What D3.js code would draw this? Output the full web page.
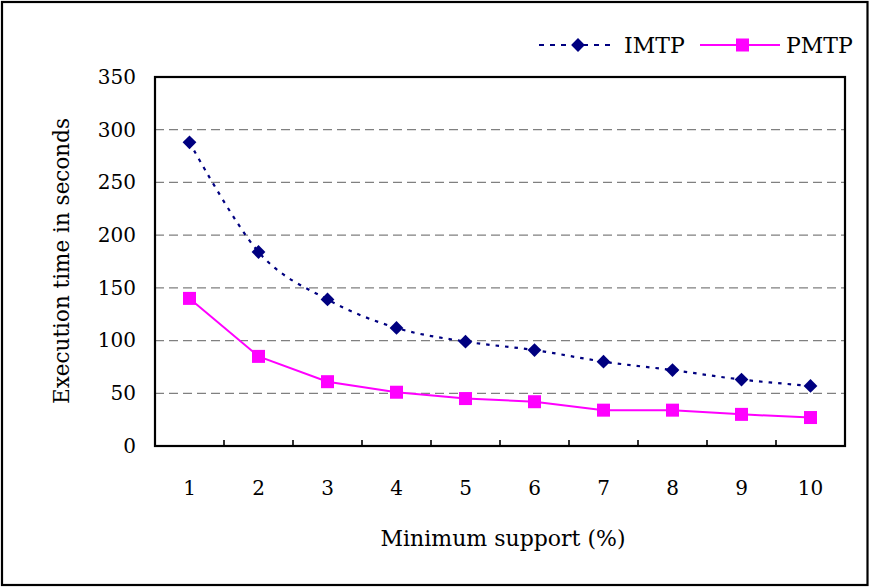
<!DOCTYPE html>
<html>
<head>
<meta charset="utf-8">
<script src="https://cdn.jsdelivr.net/npm/d3@7"></script>
<style>
  html, body { margin: 0; padding: 0; background: #fff; }
  svg { display: block; }
  text { font-family: "DejaVu Serif", serif; fill: #000; }
</style>
</head>
<body>
<svg id="chart" width="870" height="587"></svg>
<script>
// Minimum support levels (%) and execution times (seconds)
const supports = [1, 2, 3, 4, 5, 6, 7, 8, 9, 10];
const imtp = [288, 184, 139, 112, 99, 91, 80, 72, 63, 57];
const pmtp = [140, 85, 61, 51, 45, 42, 34, 34, 30, 27];
const yTicks = [0, 50, 100, 150, 200, 250, 300, 350];

const svg = d3.select("#chart");
const W = 870, H = 587;
const plot = { left: 155, right: 845, top: 77, bottom: 446 };

// outer frame
svg.append("rect")
  .attr("x", 2).attr("y", 2).attr("width", W - 4.5).attr("height", H - 4)
  .attr("fill", "#fff").attr("stroke", "#000").attr("stroke-width", 2.2);

const x = d3.scaleBand().domain(supports).range([plot.left, plot.right]);
const y = d3.scaleLinear().domain([0, 350]).range([plot.bottom, plot.top]);

// horizontal dashed gridlines
svg.append("g").selectAll("line")
  .data(yTicks.filter(v => v > 0 && v < 350))
  .join("line")
  .attr("x1", plot.left).attr("x2", plot.right)
  .attr("y1", d => y(d)).attr("y2", d => y(d))
  .attr("stroke", "#808080").attr("stroke-width", 1.3)
  .attr("stroke-dasharray", "9,5");

// y axis tick labels
const yAxis = d3.axisLeft(y).tickValues(yTicks).tickSize(0).tickPadding(19);
const gy = svg.append("g").attr("transform", `translate(${plot.left},0)`).call(yAxis);
gy.select(".domain").remove();
gy.selectAll("text").attr("font-family", "DejaVu Serif, serif").attr("font-size", 20).attr("fill", "#000");

// x axis: ticks between categories, labels below
const gx = svg.append("g").attr("transform", `translate(0,${plot.bottom})`);
gx.selectAll("line")
  .data(supports.slice(1))
  .join("line")
  .attr("x1", d => x(d)).attr("x2", d => x(d))
  .attr("y1", 0).attr("y2", -6)
  .attr("stroke", "#000").attr("stroke-width", 1.6);
gx.selectAll("text")
  .data(supports)
  .join("text")
  .attr("x", d => x(d) + x.bandwidth() / 2)
  .attr("y", 49)
  .attr("text-anchor", "middle")
  .attr("font-size", 20)
  .text(d => d);

// plot area frame
svg.append("rect")
  .attr("x", plot.left).attr("y", plot.top)
  .attr("width", plot.right - plot.left).attr("height", plot.bottom - plot.top)
  .attr("fill", "none").attr("stroke", "#000").attr("stroke-width", 2.2);

const cx = d => x(d) + x.bandwidth() / 2;

// IMTP: smoothed dotted navy line with diamond markers
const lineSmooth = d3.line().x((d, i) => cx(supports[i])).y(d => y(d))
  .curve(d3.curveCardinal.tension(0));
svg.append("path").datum(imtp)
  .attr("d", lineSmooth)
  .attr("fill", "none").attr("stroke", "#000080").attr("stroke-width", 2.2)
  .attr("stroke-dasharray", "3.5,6");
const diamond = d3.symbol().type(d3.symbolSquare).size(95);
svg.append("g").selectAll("path")
  .data(imtp)
  .join("path")
  .attr("d", diamond)
  .attr("transform", (d, i) => `translate(${cx(supports[i])},${y(d)}) rotate(45)`)
  .attr("fill", "#000080");

// PMTP: solid magenta line with square markers
const lineStraight = d3.line().x((d, i) => cx(supports[i])).y(d => y(d));
svg.append("path").datum(pmtp)
  .attr("d", lineStraight)
  .attr("fill", "none").attr("stroke", "#ff00ff").attr("stroke-width", 2);
svg.append("g").selectAll("rect")
  .data(pmtp)
  .join("rect")
  .attr("x", (d, i) => cx(supports[i]) - 6.5)
  .attr("y", d => y(d) - 6.5)
  .attr("width", 13).attr("height", 13)
  .attr("fill", "#ff00ff");

// axis titles
svg.append("text")
  .attr("x", (plot.left + plot.right) / 2 + 3)
  .attr("y", 546)
  .attr("text-anchor", "middle")
  .attr("font-size", 22)
  .text("Minimum support (%)");
svg.append("text")
  .attr("transform", `translate(69,${(plot.top + plot.bottom) / 2 - 0.5}) rotate(-90)`)
  .attr("text-anchor", "middle")
  .attr("font-size", 21.5)
  .text("Execution time in seconds");

// legend
const lg = svg.append("g");
lg.append("line")
  .attr("x1", 539).attr("x2", 614).attr("y1", 45).attr("y2", 45)
  .attr("stroke", "#000080").attr("stroke-width", 2.2).attr("stroke-dasharray", "5,6");
lg.append("path").attr("d", diamond)
  .attr("transform", "translate(578,45) rotate(45)")
  .attr("fill", "#000080");
lg.append("text").attr("x", 624).attr("y", 53).attr("font-size", 22).text("IMTP");
lg.append("line")
  .attr("x1", 700).attr("x2", 780).attr("y1", 45).attr("y2", 45)
  .attr("stroke", "#ff00ff").attr("stroke-width", 2);
lg.append("rect").attr("x", 736).attr("y", 38.5).attr("width", 13).attr("height", 13)
  .attr("fill", "#ff00ff");
lg.append("text").attr("x", 786).attr("y", 53).attr("font-size", 22).text("PMTP");
</script>
</body>
</html>
